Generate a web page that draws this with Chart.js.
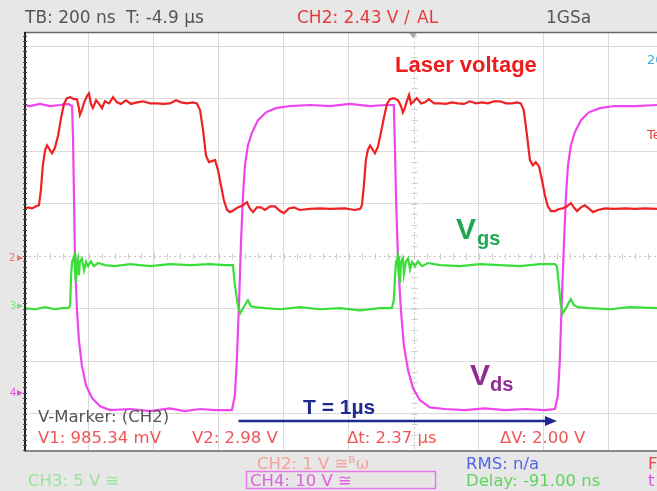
<!DOCTYPE html>
<html>
<head>
<meta charset="utf-8">
<script src="https://cdn.jsdelivr.net/npm/chart.js"></script>
<style>
  html, body { margin: 0; padding: 0; background: #e6e6e6; }
  #wrap { position: relative; width: 657px; height: 491px; }
</style>
</head>
<body>
<div id="wrap"><canvas id="scope" width="657" height="491"></canvas></div>
<script>
// time in ns from the left edge of the screen (200 ns/div), levels in screen divisions from centre
var laserT = [0,12,25,37,46,52,58,65,71,80,86,95,105,114,123,132,142,154,163,169,172,178,185,194,200,206,212,222,231,240,249,262,274,286,298,314,329,348,366,388,409,428,449,468,483,502,520,532,542,551,560,569,578,588,597,606,615,625,634,646,658,674,686,695,705,717,729,742,757,772,788,800,815,831,849,880,911,942,988,1018,1034,1040,1046,1052,1058,1065,1074,1080,1089,1098,1108,1117,1126,1138,1151,1160,1166,1172,1178,1185,1191,1200,1209,1222,1234,1246,1262,1280,1298,1317,1335,1354,1372,1391,1409,1428,1446,1465,1483,1502,1517,1529,1538,1548,1557,1566,1575,1585,1594,1603,1612,1622,1634,1646,1658,1671,1683,1692,1702,1714,1726,1738,1751,1766,1788,1818,1849,1880,1911,1948];
var laserV = [0.90,0.93,0.91,0.95,0.97,1.26,1.73,2.02,2.11,2.02,1.96,2.06,2.30,2.63,2.90,3.01,3.03,2.99,2.99,2.82,2.69,2.78,2.93,3.05,3.10,2.90,2.82,2.97,2.90,2.82,2.95,2.91,3.03,2.93,2.90,2.97,2.90,2.93,2.95,2.91,2.91,2.90,2.91,2.97,2.93,2.91,2.93,2.91,2.78,2.40,1.92,1.79,1.81,1.83,1.64,1.35,1.07,0.88,0.84,0.88,0.93,0.97,1.03,0.91,0.84,0.93,0.93,0.88,0.95,0.95,0.86,0.82,0.91,0.93,0.88,0.90,0.91,0.90,0.91,0.88,0.90,0.97,1.35,1.83,2.02,2.11,2.02,1.96,2.08,2.34,2.65,2.90,2.99,3.01,2.97,2.86,2.74,2.82,2.95,3.07,2.90,2.95,3.01,2.91,2.93,2.99,2.91,2.91,2.90,2.93,2.91,2.90,2.95,2.91,2.93,2.91,2.95,2.95,2.91,2.91,2.93,2.91,2.78,2.30,1.83,1.73,1.79,1.71,1.45,1.16,0.95,0.86,0.86,0.90,0.91,0.95,1.01,0.93,0.86,0.93,0.97,0.91,0.84,0.88,0.91,0.90,0.91,0.90,0.91,0.90];

var vgsT = [0,34,65,95,117,135,142,145,148,154,157,160,163,166,169,172,178,185,191,197,206,215,228,249,280,326,388,449,511,572,618,643,649,658,665,674,683,689,698,711,742,788,849,911,972,1034,1095,1132,1138,1142,1145,1151,1154,1157,1160,1166,1169,1175,1182,1188,1194,1203,1212,1225,1243,1280,1342,1403,1465,1526,1588,1634,1640,1646,1652,1658,1668,1677,1683,1692,1705,1742,1803,1865,1948];
var vgsV = [-0.99,-1.01,-0.97,-1.01,-0.99,-0.99,-0.95,-0.36,-0.11,0,-0.27,-0.51,-0.11,-0.04,-0.36,-0.11,-0.04,-0.27,-0.11,-0.19,-0.10,-0.19,-0.13,-0.17,-0.19,-0.15,-0.19,-0.15,-0.17,-0.15,-0.17,-0.17,-0.55,-0.93,-1.09,-0.99,-0.90,-0.84,-0.95,-0.97,-0.99,-1.01,-0.97,-1.01,-0.99,-1.03,-0.99,-0.99,-0.84,-0.36,-0.11,0,-0.36,-0.51,-0.11,-0.04,-0.34,-0.11,-0.04,-0.25,-0.11,-0.19,-0.10,-0.19,-0.13,-0.17,-0.19,-0.15,-0.17,-0.19,-0.15,-0.15,-0.19,-0.55,-0.93,-1.09,-0.99,-0.88,-0.82,-0.93,-0.97,-0.99,-1.01,-0.97,-0.99];

var vdsT = [0,18,49,80,111,135,148,151,154,157,163,169,178,191,209,234,265,326,388,449,495,542,588,640,649,655,662,668,674,680,689,702,720,745,775,818,880,942,1003,1065,1111,1138,1141,1145,1151,1160,1169,1182,1197,1218,1249,1295,1357,1418,1480,1542,1603,1634,1643,1649,1655,1662,1668,1674,1683,1695,1714,1738,1772,1818,1880,1948];
var vdsV = [2.88,2.86,2.90,2.86,2.88,2.90,2.86,2.21,1.07,-0.08,-1.03,-1.60,-2.08,-2.46,-2.70,-2.86,-2.93,-2.91,-2.95,-2.90,-2.95,-2.91,-2.93,-2.93,-2.65,-1.98,-0.84,0.30,1.16,1.73,2.11,2.36,2.59,2.74,2.82,2.86,2.88,2.86,2.90,2.86,2.88,2.88,2.21,1.07,-0.08,-1.03,-1.70,-2.17,-2.51,-2.74,-2.88,-2.91,-2.93,-2.90,-2.93,-2.91,-2.93,-2.91,-2.65,-1.98,-0.84,0.30,1.16,1.73,2.11,2.36,2.59,2.74,2.82,2.86,2.86,2.88];

var timeMin = 0, timeMax = 1948, timeDiv = 200, centerTime = 1200;
var divMin = -3.71, divMax = 4.27;
var periodStart = 660, periodEnd = 1640, arrowLevel = -3.14;

function pts(t, v) {
    var out = [];
    for (var i = 0; i < t.length; i++) out.push({x: t[i], y: v[i]});
    return out;
}

var UI = '"DejaVu Sans", sans-serif';
var ANN = '"Liberation Sans", Arial, sans-serif';

function txt(ctx, s, x, y, color, font) {
    ctx.fillStyle = color;
    ctx.font = font;
    ctx.fillText(s, x, y);
}

var scopeFrame = {
    id: 'scopeFrame',
    beforeDraw: function(chart) {
        var ctx = chart.ctx, a = chart.chartArea;
        ctx.save();
        ctx.fillStyle = '#e7e7e7';
        ctx.fillRect(0, 0, chart.width, chart.height);
        ctx.fillStyle = '#ffffff';
        ctx.fillRect(a.left, a.top, a.right - a.left, a.bottom - a.top);
        ctx.restore();
    },
    beforeDatasetsDraw: function(chart) {
        // dotted centre cross with the small sub-division marks
        var ctx = chart.ctx, a = chart.chartArea, xs = chart.scales.x, ys = chart.scales.y;
        var cx = Math.round(xs.getPixelForValue(centerTime)) + 0.5;
        var cy = Math.round(ys.getPixelForValue(0)) + 0.5;
        ctx.save();
        ctx.strokeStyle = '#c6c6c6';
        ctx.lineWidth = 1;
        ctx.setLineDash([2, 3]);
        ctx.beginPath();
        ctx.moveTo(a.left, cy); ctx.lineTo(a.right, cy);
        ctx.moveTo(cx, a.top); ctx.lineTo(cx, a.bottom);
        ctx.stroke();
        ctx.setLineDash([]);
        ctx.strokeStyle = '#cfcfcf';
        ctx.beginPath();
        for (var t = timeMin; t <= timeMax; t += timeDiv / 5) {
            var px = Math.round(xs.getPixelForValue(t)) + 0.5;
            ctx.moveTo(px, cy - 3); ctx.lineTo(px, cy + 3);
        }
        for (var k = Math.ceil(divMin * 5); k <= divMax * 5; k++) {
            var py = Math.round(ys.getPixelForValue(k / 5)) + 0.5;
            ctx.moveTo(cx - 3, py); ctx.lineTo(cx + 3, py);
        }
        ctx.stroke();
        ctx.restore();
    },
    afterDraw: function(chart) {
        var ctx = chart.ctx, a = chart.chartArea, xs = chart.scales.x, ys = chart.scales.y;
        ctx.save();
        // frame
        ctx.strokeStyle = '#666';
        ctx.lineWidth = 1.5;
        ctx.beginPath();
        ctx.moveTo(a.left, a.top + 0.5); ctx.lineTo(a.right, a.top + 0.5);
        ctx.moveTo(a.left, a.bottom); ctx.lineTo(a.right, a.bottom);
        ctx.stroke();
        ctx.strokeStyle = '#222';
        ctx.lineWidth = 2;
        ctx.beginPath();
        ctx.moveTo(a.left + 1, a.top); ctx.lineTo(a.left + 1, a.bottom);
        ctx.stroke();
        ctx.strokeStyle = '#444';
        ctx.lineWidth = 1;
        ctx.beginPath();
        for (var k = Math.ceil(divMin * 10); k <= divMax * 10; k++) {
            var py = Math.round(ys.getPixelForValue(k / 10)) + 0.5;
            ctx.moveTo(a.left - 1, py); ctx.lineTo(a.left + 3, py);
        }
        ctx.stroke();

        // status line on top
        var top = '17px ' + UI;
        txt(ctx, 'TB: 200 ns', 25, 23, '#555', top);
        txt(ctx, 'T: -4.9 µs', 126, 23, '#555', top);
        txt(ctx, 'CH2: 2.43 V', 297, 23, '#e63c3c', top);
        txt(ctx, '/', 404, 23, '#e63c3c', top);
        txt(ctx, 'AL', 417, 23, '#e63c3c', top);
        txt(ctx, '1GSa', 546, 23, '#555', top);
        ctx.fillStyle = '#aaa';
        ctx.beginPath();
        ctx.moveTo(409, 33); ctx.lineTo(417, 33); ctx.lineTo(413, 38); ctx.closePath();
        ctx.fill();

        // channel markers on the left
        txt(ctx, '2', 9, 261, '#f07070', '10px ' + UI);
        txt(ctx, '3', 10, 309, '#80e080', '10px ' + UI);
        txt(ctx, '4', 10, 396, '#e050e0', '10px ' + UI);
        [[258, '#f07070'], [306, '#80e080'], [393, '#e050e0']].forEach(function(m) {
            ctx.fillStyle = m[1];
            ctx.beginPath();
            ctx.moveTo(17, m[0] - 3); ctx.lineTo(23, m[0]); ctx.lineTo(17, m[0] + 3); ctx.closePath();
            ctx.fill();
        });

        // cut-off labels at the right edge
        txt(ctx, '20', 647, 64, '#3aaee0', '13px ' + UI);
        txt(ctx, 'Te', 647, 139, '#e63c3c', '13px ' + UI);

        // annotations
        txt(ctx, 'Laser voltage', 395, 72, '#ee1c1c', 'bold 22px ' + ANN);
        txt(ctx, 'V', 456, 239, '#1fa84f', 'bold 30px ' + ANN);
        txt(ctx, 'gs', 477, 245, '#1fa84f', 'bold 20px ' + ANN);
        txt(ctx, 'V', 470, 385, '#932a93', 'bold 30px ' + ANN);
        txt(ctx, 'ds', 490, 391, '#932a93', 'bold 20px ' + ANN);
        txt(ctx, 'T = 1µs', 303, 414, '#1e2a8e', 'bold 21px ' + ANN);

        // period arrow
        var x0 = xs.getPixelForValue(periodStart), x1 = xs.getPixelForValue(periodEnd);
        var ay = ys.getPixelForValue(arrowLevel);
        ctx.strokeStyle = '#1e2a8e';
        ctx.fillStyle = '#1e2a8e';
        ctx.lineWidth = 2.5;
        ctx.beginPath();
        ctx.moveTo(x0, ay); ctx.lineTo(x1 - 10, ay);
        ctx.stroke();
        ctx.beginPath();
        ctx.moveTo(x1, ay); ctx.lineTo(x1 - 12, ay - 5); ctx.lineTo(x1 - 12, ay + 5); ctx.closePath();
        ctx.fill();

        // marker readout
        var ui = '16.5px ' + UI;
        txt(ctx, 'V-Marker: (CH2)', 38, 422, '#555', ui);
        txt(ctx, 'V1: 985.34 mV', 38, 443, '#f05555', ui);
        txt(ctx, 'V2: 2.98 V', 192, 443, '#f05555', ui);
        txt(ctx, 'Δt: 2.37 µs', 347, 443, '#f05555', ui);
        txt(ctx, 'ΔV: 2.00 V', 500, 443, '#f05555', ui);

        // bottom status bar
        txt(ctx, 'CH2: 1 V \u2245\u1D2E\u03C9', 257, 469, '#f3a29c', ui);
        txt(ctx, 'CH3: 5 V \u2245', 28, 486, '#9ae39a', ui);
        txt(ctx, 'CH4: 10 V \u2245', 250, 486, '#e25ee2', ui);
        ctx.strokeStyle = '#e57ae5';
        ctx.lineWidth = 1.5;
        ctx.strokeRect(246.5, 471.5, 189, 17);
        txt(ctx, 'RMS: n/a', 466, 469, '#5366e6', ui);
        txt(ctx, 'Delay: -91.00 ns', 466, 486, '#5cd65c', ui);
        txt(ctx, 'F', 648, 469, '#e84848', ui);
        txt(ctx, 't', 648, 486, '#dd55dd', ui);
        ctx.restore();
    }
};

var chart = new Chart(document.getElementById('scope'), {
    type: 'line',
    data: {
        datasets: [
            {
                label: 'Laser voltage',
                data: pts(laserT, laserV),
                borderColor: '#ee2222',
                borderWidth: 2.2,
                order: 1
            },
            {
                label: 'Vgs',
                data: pts(vgsT, vgsV),
                borderColor: '#3ade3a',
                borderWidth: 2.2,
                order: 2
            },
            {
                label: 'Vds',
                data: pts(vdsT, vdsV),
                borderColor: '#ef45ef',
                borderWidth: 2.2,
                order: 3
            }
        ]
    },
    options: {
        responsive: false,
        devicePixelRatio: 1,
        animation: false,
        layout: { padding: { left: 24, top: 32, right: 0, bottom: 40 } },
        elements: { point: { radius: 0 }, line: { tension: 0 } },
        plugins: { legend: { display: false }, tooltip: { enabled: false } },
        scales: {
            x: {
                type: 'linear',
                min: timeMin,
                max: timeMax,
                border: { display: false },
                ticks: { display: false, stepSize: timeDiv, includeBounds: false },
                grid: {
                    drawTicks: false,
                    color: function(c) { return c.tick && c.tick.value === centerTime ? 'rgba(0,0,0,0)' : '#dadada'; }
                }
            },
            y: {
                min: divMin,
                max: divMax,
                border: { display: false },
                ticks: { display: false, stepSize: 1, includeBounds: false },
                grid: {
                    drawTicks: false,
                    color: function(c) { return c.tick && c.tick.value === 0 ? 'rgba(0,0,0,0)' : '#dadada'; }
                }
            }
        }
    },
    plugins: [scopeFrame]
});
</script>
</body>
</html>
